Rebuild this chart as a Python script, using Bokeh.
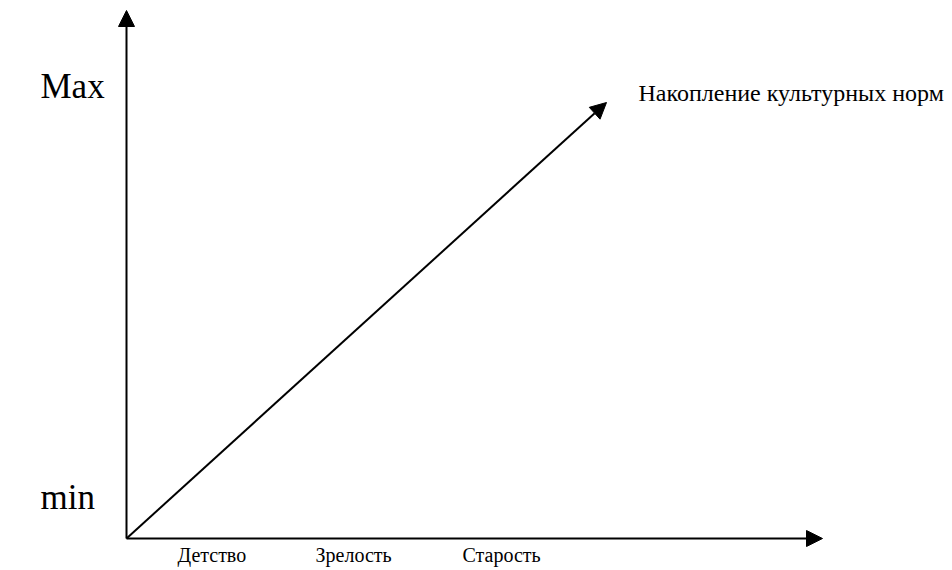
from bokeh.plotting import figure
from bokeh.models import Range1d, Arrow, NormalHead, ColumnDataSource, Label
from bokeh.core.properties import value
from bokeh.embed import file_html
from bokeh.resources import INLINE

# Diagram data (in a pixel-like data space, origin at the axes' corner)
stages = ["Детство", "Зрелость", "Старость"]
stage_x = [51, 189, 336]
levels = ["min", "Max"]
level_y = [41, 452]
trend_label = "Накопление культурных норм"
trend_start = (0, 0)
trend_end = (480, 436)
x_axis_end = 696
y_axis_end = 528

p = figure(width=952, height=570, output_backend="svg", toolbar_location=None,
           x_range=Range1d(-126, 826), y_range=Range1d(-32, 538),
           min_border=0)
p.axis.visible = False
p.grid.visible = False
p.outline_line_color = None
p.background_fill_color = "white"

def head():
    return NormalHead(size=16, fill_color="black", line_color="black", line_width=1)

p.add_layout(Arrow(end=head(), x_start=0, y_start=0, x_end=0, y_end=y_axis_end,
                   line_width=2, line_color="black"))
p.add_layout(Arrow(end=head(), x_start=0, y_start=0, x_end=x_axis_end, y_end=0,
                   line_width=2, line_color="black"))
p.add_layout(Arrow(end=head(), x_start=trend_start[0], y_start=trend_start[1],
                   x_end=trend_end[0], y_end=trend_end[1],
                   line_width=2, line_color="black"))

src_s = ColumnDataSource(dict(x=stage_x, y=[-16] * len(stages), t=stages))
p.text(x="x", y="y", text="t", source=src_s, text_font=value("Liberation Serif"),
       text_font_size="20px", text_baseline="alphabetic", text_align="left",
       text_color="black")

src_l = ColumnDataSource(dict(x=[-86] * len(levels), y=level_y, t=levels))
p.text(x="x", y="y", text="t", source=src_l, text_font=value("Liberation Serif"),
       text_font_size="35px", text_baseline="alphabetic", text_align="left",
       text_color="black")

p.add_layout(Label(x=512, y=446, text=trend_label, text_font="Liberation Serif",
                   text_font_size="24px", text_baseline="alphabetic",
                   text_color="black"))

open("out.html", "w").write(file_html(p, INLINE))
